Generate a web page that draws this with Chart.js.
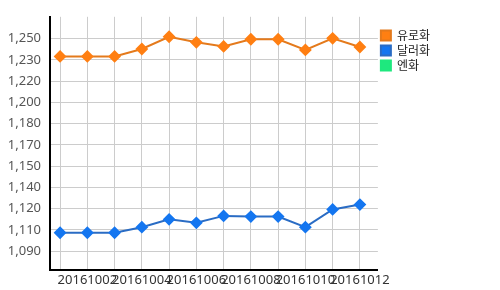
<!DOCTYPE html>
<html>
<head>
<meta charset="utf-8">
<script src="https://cdn.jsdelivr.net/npm/chart.js@4"></script>
<style>
  body { margin: 0; background: #fff; }
</style>
</head>
<body>
<canvas id="lineChart" width="500" height="290"></canvas>
<script>
var months = ["20161001", "20161002", "20161003", "20161004", "20161005", "20161006",
              "20161007", "20161008", "20161009", "20161010", "20161011", "20161012"];
var euro = [1236.6, 1236.6, 1236.6, 1242.2, 1251.4, 1247.2, 1244.1, 1249.5, 1249.5, 1241.5, 1250.2, 1243.7];
var dollar = [1103.9, 1103.9, 1103.9, 1108.1, 1114.0, 1111.4, 1116.6, 1116.1, 1116.1, 1108.1, 1121.5, 1125.1];
var yen = [null, null, null, null, null, null, null, null, null, null, null, null];
var yTickValues = [1090, 1106, 1122, 1138, 1154, 1170, 1186, 1202, 1218, 1234, 1250];
var yTickLabels = ["1,090", "1,110", "1,120", "1,140", "1,150", "1,170", "1,180", "1,200", "1,220", "1,230", "1,250"];

function points(arr) {
    return arr.map(function (v, i) { return {x: i, y: v}; });
}

var fontFamily = "'Noto Sans', 'Noto Sans CJK KR', sans-serif";

var lineData = {
    datasets: [{
        label: "유로화",
        data: points(euro),
        borderColor: "#e47a1c",
        backgroundColor: "#ff7f12",
        pointBackgroundColor: "#ff7f12",
        pointBorderColor: "#ff7f12",
        pointStyle: "rectRot",
        pointRadius: 5,
        borderWidth: 2
    }, {
        label: "달러화",
        data: points(dollar),
        borderColor: "#2a6cc4",
        backgroundColor: "#1476f0",
        pointBackgroundColor: "#1476f0",
        pointBorderColor: "#1476f0",
        pointStyle: "rectRot",
        pointRadius: 5,
        borderWidth: 2
    }, {
        label: "엔화",
        data: points(yen),
        borderColor: "#1ee87e",
        backgroundColor: "#1ee87e",
        pointStyle: "rectRot",
        pointRadius: 5,
        borderWidth: 2
    }]
};

var lineOptions = {
    responsive: false,
    animation: false,
    layout: { padding: { right: 60 } },
    plugins: {
        tooltip: { enabled: false },
        legend: {
            position: "right",
            align: "start",
            title: { display: true, text: "", padding: { top: 12, bottom: 0 } },
            labels: {
                boxWidth: 10,
                boxHeight: 10,
                padding: 3,
                color: "#222",
                font: { family: "'Noto Sans CJK KR', sans-serif", size: 12 }
            }
        }
    },
    scales: {
        x: {
            type: "linear",
            min: -0.37,
            max: 11.66,
            afterBuildTicks: function (s) {
                s.ticks = months.map(function (m, i) { return {value: i}; });
            },
            afterFit: function (s) { s.height = 20; },
            grid: { color: "#cccccc", drawTicks: false },
            border: { display: true, color: "#000", width: 2 },
            ticks: {
                autoSkip: false,
                maxRotation: 0,
                padding: 2,
                color: "#333",
                font: { family: fontFamily, size: 13 },
                callback: function (v, i) { return i % 2 === 1 ? months[i] : ""; }
            }
        },
        y: {
            min: 1075.9,
            max: 1266.4,
            afterBuildTicks: function (s) {
                s.ticks = yTickValues.map(function (v) { return {value: v}; });
            },
            afterFit: function (s) { s.width = 50; },
            grid: { color: "#cccccc", drawTicks: false },
            border: { display: true, color: "#000", width: 2 },
            ticks: {
                padding: 9,
                color: "#555",
                font: { family: fontFamily, size: 13 },
                callback: function (v, i) { return yTickLabels[i]; }
            }
        }
    }
};

var ctx = document.getElementById("lineChart").getContext("2d");
new Chart(ctx, {type: "line", data: lineData, options: lineOptions});
</script>
</body>
</html>
